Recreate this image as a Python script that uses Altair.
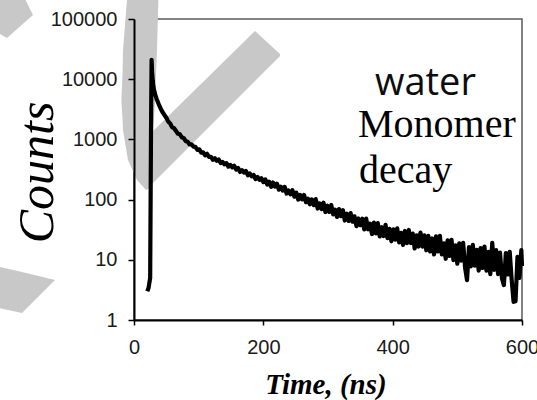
import altair as alt
import pandas as pd

# ---------------- data ----------------
rise_time = [20.5, 22.5, 25, 26.5, 27.2, 28, 29, 30, 31, 33, 35, 38, 41, 44, 47]
rise_counts = [3.0, 3.4, 5, 3000, 21000, 13000, 9500, 7600, 6600, 5500, 4700, 3900, 3300, 2850, 2550]

grid_time = list(range(50, 600, 3)) + [600]

counts_50_98 = [2291, 1972, 1841, 1585, 1535, 1380, 1242, 1216, 1084, 1047, 933, 914, 826, 828,
                757, 750, 670]
counts_101_200 = [682, 601, 610, 543, 577, 514, 515, 458, 488, 441, 463, 405, 421, 385, 404, 353,
                  376, 344, 365, 316, 335, 288, 309, 282, 299, 254, 272, 243, 257, 219, 237, 214,
                  226, 195]
counts_203_350 = [217, 178, 198, 163, 192, 165, 184, 146, 164, 141, 163, 126, 142, 122, 143, 112,
                  130, 100, 120, 101, 119, 90.6, 104, 83.6, 101, 80.7, 102, 71.1, 86.5, 69.3, 88.9,
                  62.1, 79.3, 62.5, 81.5, 56.9, 67.9, 51.6, 69.7, 53.0, 66.7, 44.9, 58.3, 44.3,
                  59.6, 43.0, 52.8, 36.2, 48.6, 37.6]
counts_353_452 = [48.1, 31.9, 48.4, 32.1, 39.7, 26.8, 41.5, 27.5, 40.6, 24.4, 34.8, 24.8, 38.0,
                  22.9, 32.6, 20.3, 32.1, 21.6, 33.3, 19.5, 28.1, 17.6, 30.1, 18.9, 31.3, 19.0,
                  27.3, 15.4, 25.5, 16.6, 28.3, 16.6, 25.5, 14.4]
counts_455_600 = [25.1, 13.8, 22.6, 12.3, 24.5, 13.8, 25.1, 12.3, 18.8, 10.4, 21.1, 11.6, 21.5,
                  9.9, 17.4, 8.6, 18.8, 9.7, 19.1, 7.4, 4.6, 16.3, 7.8, 17.7, 8.0, 14.6, 6.6, 15.6,
                  7.3, 16.6, 6.6, 13.6, 5.8, 19.1, 6.8, 14.5, 5.8, 13.2, 4.9, 3.8, 12.9, 5.7, 13.6,
                  4.7, 2.0, 2.05, 11.2, 5.0, 14.5, 7.9]

decay_counts = counts_50_98 + counts_101_200 + counts_203_350 + counts_353_452 + counts_455_600

x_ticks = [0, 200, 400, 600]
y_ticks = [1, 10, 100, 1000, 10000, 100000]

# annotation texts (time, counts)
label_water = ["water"]
label_water_t = [372.7]
label_water_c = [5460]
label_serif = ["Monomer", "decay"]
label_serif_t = [346.4, 348.0]
label_serif_c = [1096, 189]

# grey watermark shapes (in data units)
wm_tl_t = [-212, -196.4, -171.6, -156.2]
wm_tl_top = [250500, 250500, 250500, 116500]
wm_tl_bot = [60000, 48350, 83200, 116500]

wm_ll_t = [-212, -173.2, -122.2]
wm_ll_top = [7.8, 6.27, 4.62]
wm_ll_bot = [1.6, 1.307, 4.62]

wm_dg_t = [21.65, 187.1, 225.8]
wm_dg_top = [1139, 63200, 26220]
wm_dg_bot = [155.8, 9333, 24290]

wm_vb_t = [-19.33, -17.78, -17.01, -13.92, -10.83, -9.28, 4.64, 18.56, 24.74, 30.15, 32.47,
           35.57, 37.89]
wm_vb_top = [5062, 11745, 30550, 79500, 206900, 250500, 250500, 250500, 250500, 250500, 250500,
             250500, 250500]
wm_vb_bot = [4024, 2267, 1433, 905.4, 572, 454.8, 211.7, 144.4, 155.8, 1607, 4512, 30550, 250500]

# ---------------- tables ----------------
df_line = pd.DataFrame({"t": rise_time + grid_time, "c": rise_counts + decay_counts})
df_water = pd.DataFrame({"t": label_water_t, "c": label_water_c, "s": label_water})
df_serif = pd.DataFrame({"t": label_serif_t, "c": label_serif_c, "s": label_serif})
df_wm = pd.concat([
    pd.DataFrame({"t": wm_tl_t, "c": wm_tl_top, "c2": wm_tl_bot, "shape": "tl"}),
    pd.DataFrame({"t": wm_ll_t, "c": wm_ll_top, "c2": wm_ll_bot, "shape": "ll"}),
    pd.DataFrame({"t": wm_dg_t, "c": wm_dg_top, "c2": wm_dg_bot, "shape": "dg"}),
    pd.DataFrame({"t": wm_vb_t, "c": wm_vb_top, "c2": wm_vb_bot, "shape": "vb"}),
], ignore_index=True)

xs = alt.Scale(domain=[0, 600], nice=False, zero=False)
ys = alt.Scale(type="log", domain=[1, 100000], nice=False)

x_axis = alt.Axis(
    values=x_ticks, format="d", grid=False, labelFlush=False, labelOverlap=False,
    labelFont="Liberation Sans", labelFontSize=20, labelColor="#1a1a1a", labelPadding=12,
    tickSize=5, tickColor="black", tickWidth=1.5, domainColor="black", domainWidth=2,
    title="Time, (ns)", titleFont="Liberation Serif", titleFontSize=29,
    titleFontStyle="italic", titleFontWeight="bold", titleColor="black",
    titleX=191.5, titleY=73, titleAlign="center", titleBaseline="alphabetic", zindex=1,
)
y_axis = alt.Axis(
    values=y_ticks, format="d", grid=False, labelOverlap=False,
    labelFont="Liberation Sans", labelFontSize=20, labelColor="#1a1a1a", labelPadding=11,
    tickSize=6, tickColor="black", tickWidth=1.5, domainColor="black", domainWidth=2,
    title="Counts", titleFont="Liberation Serif", titleFontSize=50,
    titleFontStyle="italic", titleFontWeight="normal", titleColor="black",
    titleAngle=270, titleX=-82, titleY=153, titleAlign="center",
    titleBaseline="alphabetic", zindex=1,
)


def X(f):
    return alt.X(f, type="quantitative", scale=xs, axis=x_axis, stack=None)


def Y(f):
    return alt.Y(f, type="quantitative", scale=ys, axis=y_axis, stack=None)


GREY = "#c8c8c8"

watermark = alt.Chart(df_wm).mark_area(color=GREY, orient="vertical").encode(
    x=X("t"), y=Y("c"), y2="c2", detail="shape:N")

line = alt.Chart(df_line).mark_line(color="black", strokeWidth=4.2, strokeJoin="round").encode(
    x=X("t"), y=Y("c"))

txt_water = alt.Chart(df_water).mark_text(
    font="Open Sans", fontSize=38, color="#0d0d0d", align="left", baseline="alphabetic"
).encode(x=X("t"), y=Y("c"), text="s")

txt_serif = alt.Chart(df_serif).mark_text(
    font="Liberation Serif", fontSize=40, color="black", align="left", baseline="alphabetic"
).encode(x=X("t"), y=Y("c"), text="s")

chart = alt.layer(watermark, line, txt_water, txt_serif).properties(
    width=388, height=301,
    padding={"left": 134, "top": 19, "right": 15, "bottom": 80},
    autosize=alt.AutoSizeParams(type="none"),
    background="white",
).configure_view(stroke="#5a5a5a", strokeWidth=1.5)

chart.save("out.html", embed_options={"renderer": "svg", "actions": False})
